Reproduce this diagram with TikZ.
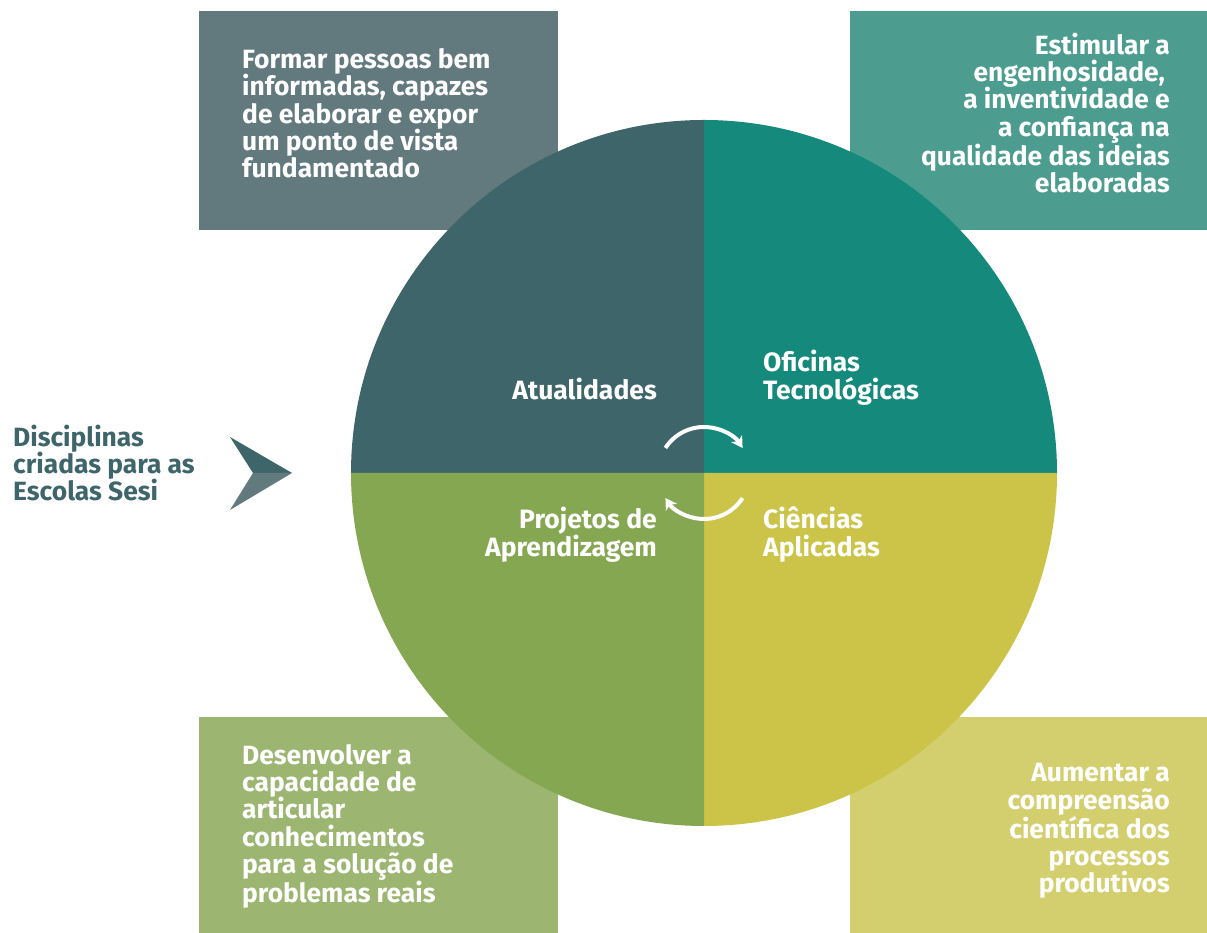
\documentclass[tikz,border=0pt]{standalone}
\usepackage{fontspec}
\setmainfont{Fira Sans}
\usetikzlibrary{arrows.meta}
\definecolor{tlcirc}{HTML}{3E656A}
\definecolor{trcirc}{HTML}{14897C}
\definecolor{blcirc}{HTML}{86A752}
\definecolor{brcirc}{HTML}{CBC448}
\definecolor{tlbox}{HTML}{62797E}
\definecolor{trbox}{HTML}{4C9C8F}
\definecolor{blbox}{HTML}{9CB672}
\definecolor{brbox}{HTML}{D4CF6E}
\tikzset{
  boxtext/.style={text=white, inner sep=0pt, font=\bfseries\fontsize{26.4}{27.4}\selectfont},
  circtext/.style={text=white, inner sep=0pt, font=\bfseries\fontsize{26.5}{28}\selectfont},
  cyclearrow/.style={white, line width=4pt, -{Stealth[length=11pt,width=13pt,inset=3pt]}},
}
\begin{document}
\begin{tikzpicture}[x=1pt,y=1pt]
\useasboundingbox (0,0) rectangle (1207,933);
% boxes
\fill[tlbox] (199,703) rectangle (558,922);
\fill[trbox] (850,703) rectangle (1207,922);
\fill[blbox] (199,0) rectangle (558,216);
\fill[brbox] (850,0) rectangle (1207,216);
% circle
\coordinate (c) at (704,460);
\fill[tlcirc] (c) -- ++(180:353) arc[start angle=180,end angle=90,radius=353] -- cycle;
\fill[trcirc] (c) -- ++(90:353) arc[start angle=90,end angle=0,radius=353] -- cycle;
\fill[brcirc] (c) -- ++(0:353) arc[start angle=0,end angle=-90,radius=353] -- cycle;
\fill[blcirc] (c) -- ++(-90:353) arc[start angle=-90,end angle=-180,radius=353] -- cycle;
% cycle arrows
\draw[cyclearrow] ([shift={(147:46)}]c) arc[start angle=147,end angle=33,radius=46];
\draw[cyclearrow] ([shift={(-33:46)}]c) arc[start angle=-33,end angle=-147,radius=46];
% left arrow
\coordinate (at) at (230,496);
\coordinate (atip) at (292,460);
\coordinate (ab) at (230,423);
\coordinate (an) at (253,460);
\fill[tlcirc] (at) -- (atip) -- (an) -- cycle;
\fill[tlbox] (an) -- (atip) -- (ab) -- cycle;
% texts (base anchor = baseline of last line)
\node[boxtext, anchor=base west, align=left] (ttl) at (242,755)
  {Formar pessoas bem\\informadas, capazes\\de elaborar e expor\\um ponto de vista\\fundamentado};
\node[boxtext, anchor=base east, align=right] (ttr) at (1170,740)
  {Estimular a\\engenhosidade,\kern5pt\null\\a inventividade e\\a confiança na\\qualidade das ideias\\elaboradas};
\node[boxtext, anchor=base west, align=left] (tbl) at (242,30)
  {Desenvolver a\\capacidade de\\articular\\conhecimentos\\para a solução de\\problemas reais};
\node[boxtext, anchor=base east, align=right] (tbr) at (1170,40)
  {Aumentar a\\compreensão\\científica dos\\processos\\produtivos};
\node[boxtext, text=tlcirc, anchor=base west, align=left] (left) at (13,432)
  {Disciplinas\\criadas para as\\Escolas Sesi};
\node[circtext, anchor=base east, align=right] (atu) at (657,533) {Atualidades};
\node[circtext, anchor=base west, align=left] (ofi) at (763,533) {Oficinas\\Tecnológicas};
\node[circtext, anchor=base east, align=right] (pro) at (657,376) {Projetos de\\Aprendizagem};
\node[circtext, anchor=base west, align=left] (cie) at (763,376) {Ciências\\Aplicadas};
\end{tikzpicture}
\end{document}
